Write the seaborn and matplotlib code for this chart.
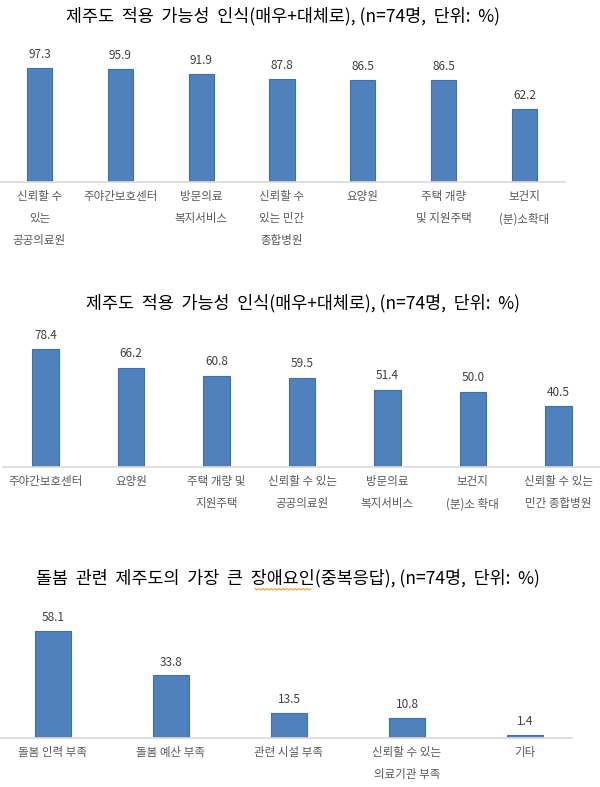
import matplotlib
matplotlib.use("Agg")
from matplotlib import pyplot as plt
from matplotlib.lines import Line2D
import numpy as np
import seaborn as sns

# chart 1
labels_1 = ["신뢰할 수\n있는\n공공의료원", "주야간보호센터", "방문의료\n복지서비스",
            "신뢰할 수\n있는 민간\n종합병원", "요양원", "주택 개량\n및 지원주택", "보건지\n(분)소확대"]
values_1 = [97.3, 95.9, 91.9, 87.8, 86.5, 86.5, 62.2]

# chart 2
labels_2 = ["주야간보호센터", "요양원", "주택 개량 및\n지원주택", "신뢰할 수 있는\n공공의료원",
            "방문의료\n복지서비스", "보건지\n(분)소 확대", "신뢰할 수 있는\n민간 종합병원"]
values_2 = [78.4, 66.2, 60.8, 59.5, 51.4, 50.0, 40.5]

# chart 3
labels_3 = ["돌봄 인력 부족", "돌봄 예산 부족", "관련 시설 부족", "신뢰할 수 있는\n의료기관 부족", "기타"]
values_3 = [58.1, 33.8, 13.5, 10.8, 1.4]

title_1 = "제주도  적용  가능성  인식(매우+대체로), (n=74명,  단위:  %)"
title_2 = "제주도  적용  가능성  인식(매우+대체로), (n=74명,  단위:  %)"
title_3 = "돌봄  관련  제주도의  가장  큰  장애요인(중복응답), (n=74명,  단위:  %)"

sns.set_style("white")
plt.rcParams["font.family"] = ["Noto Sans CJK KR", "DejaVu Sans"]

W, H = 600, 787
fig = plt.figure(figsize=(W / 100, H / 100), dpi=100)

BAR = "#4f81bd"
EDGE = "#3f6fb0"


def px_axes(x0, x1, ytop, ybase):
    return fig.add_axes([x0 / W, 1 - ybase / H, (x1 - x0) / W, (ybase - ytop) / H])


def draw(ax, labels, values, ymax, label_pad):
    sns.barplot(x=labels, y=values, ax=ax, color=BAR, width=0.31, saturation=1,
                edgecolor=EDGE, linewidth=0.8)
    ax.set_ylim(0, ymax)
    ax.set_xlim(-0.5, len(labels) - 0.5)
    ax.bar_label(ax.containers[0], fmt="%.1f", padding=label_pad, fontsize=8.5,
                 color="#404040")
    for s in ["top", "left", "right"]:
        ax.spines[s].set_visible(False)
    ax.spines["bottom"].set_color("#d9d9d9")
    ax.spines["bottom"].set_linewidth(1.2)
    ax.set_yticks([])
    ax.set_ylabel("")
    ax.tick_params(axis="x", length=0, pad=6, labelsize=8.3, labelcolor="#595959")
    for t in ax.get_xticklabels():
        t.set_linespacing(1.9)


ax1 = px_axes(-1, 565, 45, 182)
draw(ax1, labels_1, values_1, 137 / 1.175, 5)

ax2 = px_axes(3, 601, 330, 467)
draw(ax2, labels_2, values_2, 137 / 1.5, 5.5)

ax3 = px_axes(-6, 584, 610, 738)
draw(ax3, labels_3, values_3, 128 / 1.85, 5)
ax3.spines["bottom"].set_bounds(-0.5, 4.4)

fig.text(283 / W, 1 - 16.5 / H, title_1, ha="center", va="center", fontsize=12.5, color="black")
fig.text(303 / W, 1 - 303.5 / H, title_2, ha="center", va="center", fontsize=12.5, color="black")
fig.text(288 / W, 1 - 578.5 / H, title_3, ha="center", va="center", fontsize=12.5, color="black")

# spell-check squiggle under 장애요인
xs = np.arange(255, 313, 2)
ys = np.where(np.arange(len(xs)) % 2 == 0, 588.5, 590)
fig.add_artist(Line2D(xs / W, 1 - ys / H, color="#f0a030", linewidth=0.8))

fig.savefig("out.png", dpi=100, facecolor="white")
